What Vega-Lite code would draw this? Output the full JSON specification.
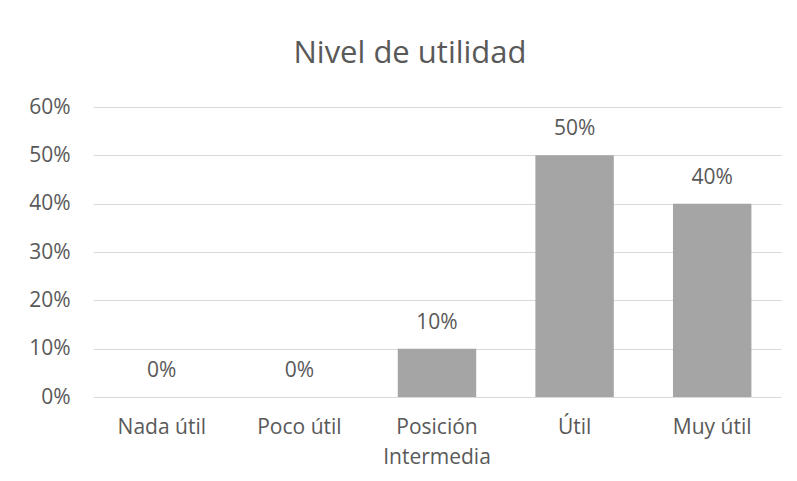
{
  "$schema": "https://vega.github.io/schema/vega-lite/v6.json",
  "autosize": {"type": "none"},
  "width": 688,
  "height": 290,
  "padding": {"left": 93, "top": 107, "right": 16, "bottom": 84},
  "background": "white",
  "title": {
    "text": "Nivel de utilidad",
    "font": "Open Sans",
    "fontSize": 31,
    "fontWeight": "normal",
    "color": "#595959",
    "anchor": "middle",
    "frame": "group",
    "baseline": "alphabetic",
    "offset": 2,
    "dx": -27
  },
  "data": {
    "values": [
      {"categoria": "Nada útil", "valor": 0},
      {"categoria": "Poco útil", "valor": 0},
      {"categoria": "Posición Intermedia", "valor": 0.1},
      {"categoria": "Útil", "valor": 0.5},
      {"categoria": "Muy útil", "valor": 0.4}
    ]
  },
  "encoding": {
    "x": {
      "field": "categoria",
      "type": "nominal",
      "sort": null,
      "scale": {"paddingInner": 0.43, "paddingOuter": 0.215},
      "axis": {
        "title": null,
        "labelAngle": 0,
        "labelFont": "Open Sans",
        "labelFontSize": 21,
        "labelColor": "#595959",
        "labelPadding": 19,
        "labelLineHeight": 30,
        "labelBaseline": "top",
        "ticks": false,
        "domain": false,
        "labelExpr": "datum.value == 'Posición Intermedia' ? ['Posición', 'Intermedia'] : datum.value"
      }
    },
    "y": {
      "field": "valor",
      "type": "quantitative",
      "scale": {"domain": [0, 0.6], "nice": false},
      "axis": {
        "title": null,
        "values": [0, 0.1, 0.2, 0.3, 0.4, 0.5, 0.6],
        "format": ".0%",
        "labelFont": "Open Sans",
        "labelFontSize": 21,
        "labelColor": "#595959",
        "labelPadding": 23,
        "ticks": false,
        "domain": false,
        "grid": true,
        "gridColor": "#D9D9D9",
        "gridWidth": 1
      }
    }
  },
  "layer": [
    {"mark": {"type": "bar", "color": "#A5A5A5"}},
    {
      "mark": {
        "type": "text",
        "font": "Open Sans",
        "fontSize": 21,
        "color": "#595959",
        "baseline": "middle",
        "dy": -26
      },
      "encoding": {"text": {"field": "valor", "type": "quantitative", "format": ".0%"}}
    }
  ],
  "config": {"view": {"stroke": null}}
}
